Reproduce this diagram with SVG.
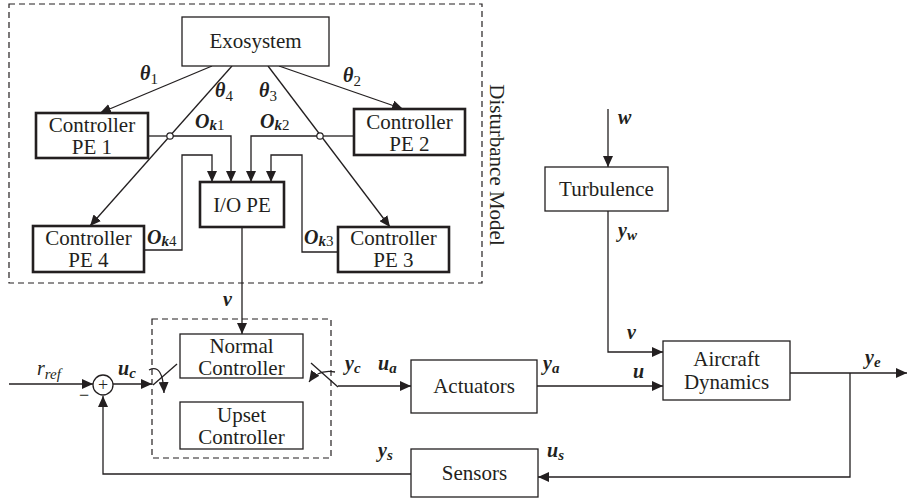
<svg xmlns="http://www.w3.org/2000/svg" width="908" height="500" viewBox="0 0 908 500" font-family="'Liberation Serif', 'Times New Roman', serif">
<defs>
<marker id="ah" markerUnits="userSpaceOnUse" markerWidth="12" markerHeight="10" refX="11" refY="5" orient="auto">
<path d="M0,0 L11,5 L0,10 Z" fill="#231f20"/>
</marker>
<style>
.bx{fill:#fff;stroke:#231f20;stroke-width:1.3}
.tk{fill:#fff;stroke:#231f20;stroke-width:2.6}
.ln{fill:none;stroke:#231f20;stroke-width:1.3}
.ar{fill:none;stroke:#231f20;stroke-width:1.3;marker-end:url(#ah)}
.ds{fill:none;stroke:#231f20;stroke-width:1.2;stroke-dasharray:6,4}
.t{font-size:21px;fill:#231f20;text-anchor:middle}
.m{font-size:20px;font-weight:bold;font-style:italic;fill:#231f20}
.sb{font-size:15px}
.sr{font-size:15px;font-weight:normal;font-style:normal}
</style>
</defs>
<rect width="908" height="500" fill="#fff"/>

<rect class="ds" x="9" y="4" width="473" height="279"/>
<text class="t" transform="translate(490,165) rotate(90)">Disturbance Model</text>
<rect class="ds" x="152" y="319" width="179" height="139"/>

<g id="connectors">
<path class="ar" d="M212,66 L100,113"/>
<path class="ar" d="M232,66 L90,226"/>
<path class="ar" d="M268,66 L390,227"/>
<path class="ar" d="M279,66 L403,109"/>
<path class="ln" d="M148,136 L167,136"/>
<circle cx="170" cy="136" r="3.2" fill="#fff" stroke="#231f20" stroke-width="1.2"/>
<path class="ar" d="M173,136 L231,136 L231,182"/>
<path class="ln" d="M354,136 L323,136"/>
<circle cx="320" cy="136" r="3.2" fill="#fff" stroke="#231f20" stroke-width="1.2"/>
<path class="ar" d="M317,136 L251,136 L251,182"/>
<path class="ar" d="M144,250 L182,250 L182,155 L212,155 L212,182"/>
<path class="ar" d="M338,252 L302,252 L302,155 L271,155 L271,182"/>
<path class="ar" d="M242,227 L242,334"/>
<path class="ar" d="M9,384 L93,384"/>
<path class="ar" d="M113,384 L152,384"/>
<path class="ln" d="M153,385 L177,364"/>
<path class="ar" d="M149,370 Q163,363 164,393"/>
<path class="ln" d="M311,363 L338,387"/>
<path class="ar" d="M335,372 Q318,369 309,382"/>
<path class="ar" d="M338,386 L411,386"/>
<path class="ar" d="M537,386 L663,386"/>
<path class="ar" d="M608,109 L608,167"/>
<path class="ar" d="M608,211 L608,352 L663,352"/>
<path class="ar" d="M790,373 L907,373"/>
<path class="ar" d="M850,373 L850,477 L538,477"/>
<path class="ar" d="M411,474 L103,474 L103,396"/>
</g>

<g id="exosystem"><rect class="bx" x="182" y="17" width="147" height="49"/><text class="t" x="255.5" y="48">Exosystem</text></g>
<g id="pe1"><rect class="tk" x="36" y="113" width="112" height="45"/><text class="t" x="92" y="132">Controller</text><text class="t" x="92" y="154">PE 1</text></g>
<g id="pe2"><rect class="tk" x="354" y="109" width="111" height="46"/><text class="t" x="409.5" y="129">Controller</text><text class="t" x="409.5" y="151">PE 2</text></g>
<g id="pe4"><rect class="tk" x="33" y="226" width="111" height="46"/><text class="t" x="88.5" y="245">Controller</text><text class="t" x="88.5" y="267">PE 4</text></g>
<g id="pe3"><rect class="tk" x="338" y="227" width="111" height="45"/><text class="t" x="393.5" y="245">Controller</text><text class="t" x="393.5" y="267">PE 3</text></g>
<g id="iope"><rect class="tk" x="200" y="182" width="84" height="45"/><text class="t" x="242" y="212">I/O PE</text></g>
<g id="sum"><circle cx="103" cy="385" r="10" fill="#fff" stroke="#231f20" stroke-width="1.3"/><text class="t" x="103" y="391" style="font-size:18px">+</text><text class="t" x="84" y="401" style="font-size:18px">−</text></g>
<g id="normal"><rect class="bx" x="180" y="334" width="123" height="44"/><text class="t" x="241.5" y="353">Normal</text><text class="t" x="241.5" y="375">Controller</text></g>
<g id="upset"><rect class="bx" x="180" y="402" width="123" height="47"/><text class="t" x="241.5" y="422">Upset</text><text class="t" x="241.5" y="444">Controller</text></g>
<g id="actuators"><rect class="bx" x="411" y="360" width="126" height="53"/><text class="t" x="474" y="393">Actuators</text></g>
<g id="sensors"><rect class="bx" x="411" y="449" width="127" height="48"/><text class="t" x="474.5" y="480">Sensors</text></g>
<g id="turbulence"><rect class="bx" x="545" y="167" width="123" height="44"/><text class="t" x="606.5" y="196">Turbulence</text></g>
<g id="aircraft"><rect class="bx" x="663" y="341" width="127" height="59"/><text class="t" x="726.5" y="366">Aircraft</text><text class="t" x="726.5" y="389">Dynamics</text></g>

<g id="labels">
<text class="m" x="140" y="80">θ<tspan class="sr" dy="4">1</tspan></text>
<text class="m" x="215" y="97">θ<tspan class="sr" dy="4">4</tspan></text>
<text class="m" x="259" y="97">θ<tspan class="sr" dy="4">3</tspan></text>
<text class="m" x="343" y="82">θ<tspan class="sr" dy="4">2</tspan></text>
<text class="m" x="195" y="128">O<tspan class="sb" dy="2">k</tspan><tspan class="sr">1</tspan></text>
<text class="m" x="260" y="128">O<tspan class="sb" dy="2">k</tspan><tspan class="sr">2</tspan></text>
<text class="m" x="147" y="244">O<tspan class="sb" dy="2">k</tspan><tspan class="sr">4</tspan></text>
<text class="m" x="304" y="244">O<tspan class="sb" dy="2">k</tspan><tspan class="sr">3</tspan></text>
<text class="m" x="223" y="306">v</text>
<text class="m" x="37" y="375" style="font-weight:normal">r<tspan class="sb" dy="4" style="font-weight:normal">ref</tspan></text>
<text class="m" x="118" y="375">u<tspan class="sb" dy="3">c</tspan></text>
<text class="m" x="345" y="370">y<tspan class="sb" dy="3">c</tspan></text>
<text class="m" x="378" y="370">u<tspan class="sb" dy="3">a</tspan></text>
<text class="m" x="543" y="370">y<tspan class="sb" dy="3">a</tspan></text>
<text class="m" x="378" y="457">y<tspan class="sb" dy="3">s</tspan></text>
<text class="m" x="547" y="457">u<tspan class="sb" dy="3">s</tspan></text>
<text class="m" x="618" y="124">w</text>
<text class="m" x="618" y="237">y<tspan class="sb" dy="3">w</tspan></text>
<text class="m" x="627" y="339">v</text>
<text class="m" x="633" y="378">u</text>
<text class="m" x="865" y="364">y<tspan class="sb" dy="3">e</tspan></text>
</g>
</svg>
